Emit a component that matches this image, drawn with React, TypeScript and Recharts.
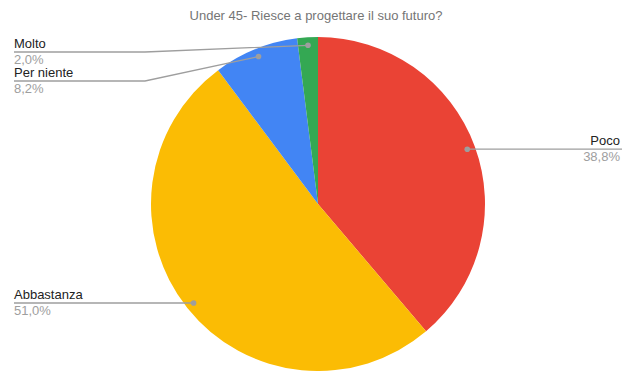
import React from 'react';
import { PieChart, Pie, Cell } from 'recharts';

const labels = ['Poco', 'Abbastanza', 'Per niente', 'Molto'];
const values = [38.8, 51.0, 8.2, 2.0];
const colors = ['#EA4335', '#FBBC04', '#4285F4', '#34A853'];

const W = 622;
const H = 371;
const CX = 318;
const CY = 204;
const R = 167;
const DOT_R = 159;

const data = labels.map((name, i) => ({ name, value: values[i] }));

// where every label goes: dot on the slice, and the y of its leader line
const total = values.reduce((a, b) => a + b, 0);
const layout = (() => {
  let cum = 0;
  const items = values.map((v, i) => {
    const ang = 90 - (360 * (cum + v / 2)) / total;
    cum += v;
    const rad = (ang * Math.PI) / 180;
    const x = CX + DOT_R * Math.cos(rad);
    const y = CY - DOT_R * Math.sin(rad);
    return { i, x, y, left: x < CX, lineY: y };
  });
  [true, false].forEach(side => {
    const group = items.filter(it => it.left === side).sort((a, b) => a.y - b.y);
    let prev = -Infinity;
    group.forEach(it => {
      it.lineY = Math.max(it.y, prev + 29, 52);
      prev = it.lineY;
    });
  });
  return items;
})();

const fmt = (v: number) => v.toFixed(1).replace('.', ',') + '%';

const renderLabel = (props: any) => {
  const it = layout[props.index];
  if (!it) return null;
  const ly = it.lineY;
  const pts = it.left
    ? `14,${ly} 145,${ly} ${it.x},${it.y}`
    : `${it.x},${it.y} ${it.x + 20},${ly} ${W},${ly}`;
  const tx = it.left ? 14 : W - 2;
  const anchor = it.left ? 'start' : 'end';
  return (
    <g key={`lbl-${props.index}`}>
      <polyline points={pts} fill="none" stroke="#9e9e9e" strokeWidth={1.3} />
      <circle cx={it.x} cy={it.y} r={2.8} fill="#9e9e9e" />
      <text x={tx} y={ly - 4} textAnchor={anchor} fontSize={13} fill="#222222" fontFamily="Arial, 'Liberation Sans', sans-serif">
        {labels[props.index]}
      </text>
      <text x={tx} y={ly + 12} textAnchor={anchor} fontSize={13} fill="#9e9e9e" fontFamily="Arial, 'Liberation Sans', sans-serif">
        {fmt(values[props.index])}
      </text>
    </g>
  );
};

export default function App() {
  document.body.style.margin = '0';
  return (
    <div style={{ width: W, height: H, background: '#ffffff' }}>
      <PieChart width={W} height={H} margin={{ top: 0, right: 0, bottom: 0, left: 0 }}>
        <text x={316} y={20} textAnchor="middle" fontSize={13} fill="#757575" fontFamily="Arial, 'Liberation Sans', sans-serif">
          Under 45- Riesce a progettare il suo futuro?
        </text>
        <Pie
          data={data}
          dataKey="value"
          nameKey="name"
          cx={CX}
          cy={CY}
          outerRadius={R}
          startAngle={90}
          endAngle={-270}
          stroke="none"
          labelLine={false}
          label={renderLabel}
          isAnimationActive={false}
        >
          {data.map((d, i) => (
            <Cell key={d.name} fill={colors[i]} />
          ))}
        </Pie>
      </PieChart>
    </div>
  );
}
